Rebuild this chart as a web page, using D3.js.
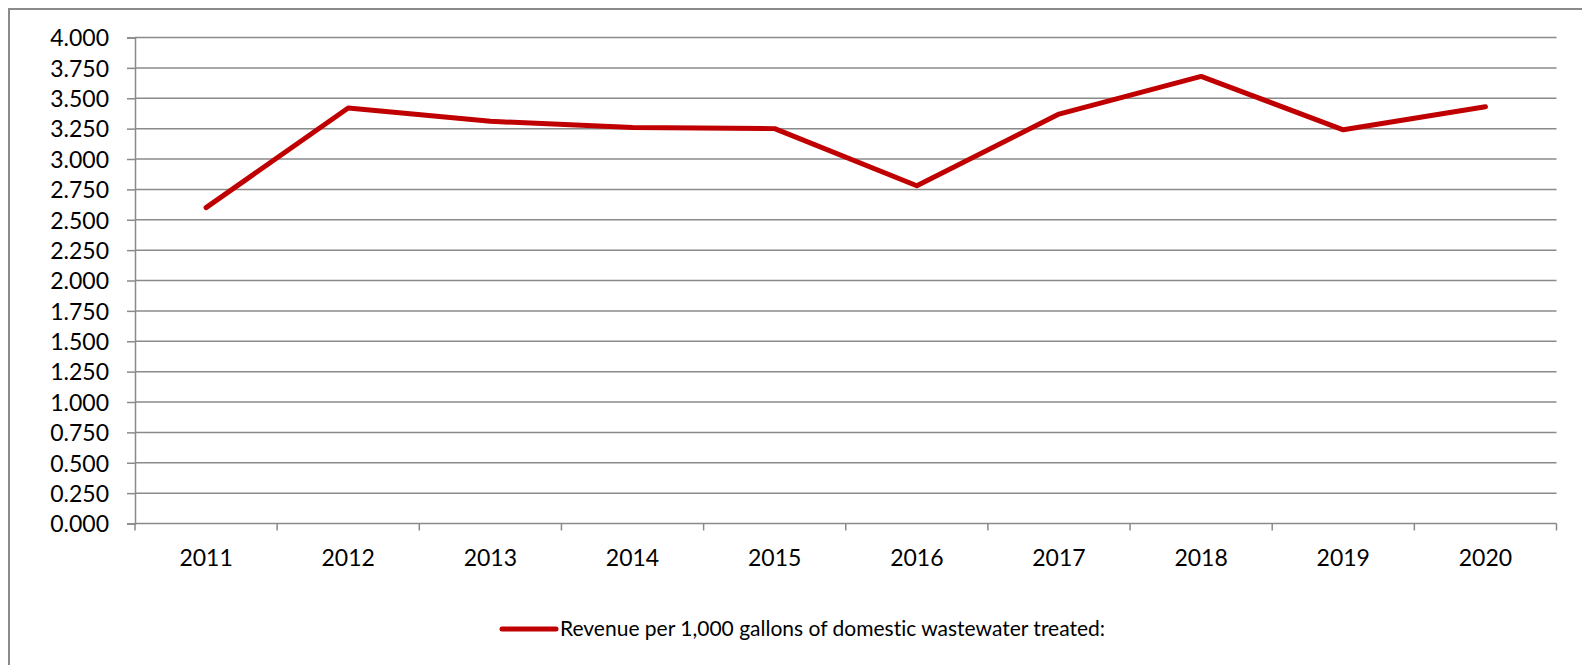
<!DOCTYPE html>
<html>
<head>
<meta charset="utf-8">
<script src="https://cdn.jsdelivr.net/npm/d3@7"></script>
<style>
  html, body { margin: 0; padding: 0; background: #fff; }
  svg { display: block; }
  text { font-variant-ligatures: none; }
</style>
</head>
<body>
<div id="chart"></div>
<script>
// Chart data
const years = ['2011', '2012', '2013', '2014', '2015', '2016', '2017', '2018', '2019', '2020'];
const revenue = [2.60, 3.42, 3.31, 3.26, 3.25, 2.78, 3.37, 3.68, 3.24, 3.43];
const yTicks = [0, 0.25, 0.5, 0.75, 1, 1.25, 1.5, 1.75, 2, 2.25, 2.5, 2.75, 3, 3.25, 3.5, 3.75, 4];
const seriesName = 'Revenue per 1,000 gallons of domestic wastewater treated:';

const width = 1582;
const height = 665;
const margin = { top: 37.5, right: 25.5, bottom: 141.5, left: 135 };
const gridColor = '#8a8a8a';
const lineColor = '#c00000';
const fontFamily = 'Lato, "Open Sans", sans-serif';

const svg = d3.select('#chart')
    .append('svg')
    .attr('width', width)
    .attr('height', height);

// outer chart border (right and bottom edges run off the picture)
svg.append('rect')
    .attr('x', 9)
    .attr('y', 9)
    .attr('width', width + 20)
    .attr('height', height + 20)
    .attr('fill', 'none')
    .attr('stroke', gridColor)
    .attr('stroke-width', 2);

const x = d3.scaleBand()
    .domain(years)
    .range([margin.left, width - margin.right]);

const y = d3.scaleLinear()
    .domain([0, 4])
    .range([height - margin.bottom, margin.top]);

// horizontal gridlines + y axis
const yAxis = svg.append('g')
    .attr('transform', `translate(${margin.left},0)`)
    .call(d3.axisLeft(y)
        .tickValues(yTicks)
        .tickFormat(d3.format('.3f'))
        .tickSize(8)
        .tickPadding(18));

yAxis.select('.domain').attr('stroke', gridColor).attr('stroke-width', 1.5);
yAxis.selectAll('.tick line').attr('stroke', gridColor).attr('stroke-width', 1.5);
yAxis.selectAll('.tick text')
    .attr('font-family', fontFamily)
    .attr('font-size', 23)
    .attr('fill', '#000')
    .attr('dy', '0.36em');

svg.append('g')
    .selectAll('line')
    .data(yTicks.filter(d => d > 0))
    .join('line')
    .attr('x1', margin.left)
    .attr('x2', width - margin.right)
    .attr('y1', d => y(d))
    .attr('y2', d => y(d))
    .attr('stroke', gridColor)
    .attr('stroke-width', 1.5);

// x axis with tick marks on category boundaries
const xAxisG = svg.append('g')
    .attr('transform', `translate(0,${y(0)})`);

xAxisG.append('line')
    .attr('x1', margin.left)
    .attr('x2', width - margin.right)
    .attr('stroke', gridColor)
    .attr('stroke-width', 1.5);

const boundaries = years.map(d => x(d)).concat([x(years[years.length - 1]) + x.bandwidth()]);
xAxisG.selectAll('.xtick')
    .data(boundaries)
    .join('line')
    .attr('class', 'xtick')
    .attr('x1', d => d)
    .attr('x2', d => d)
    .attr('y1', 0)
    .attr('y2', 7)
    .attr('stroke', gridColor)
    .attr('stroke-width', 1.5);

xAxisG.selectAll('.xlabel')
    .data(years)
    .join('text')
    .attr('class', 'xlabel')
    .attr('x', d => x(d) + x.bandwidth() / 2)
    .attr('y', 42.5)
    .attr('text-anchor', 'middle')
    .attr('font-family', fontFamily)
    .attr('font-size', 23)
    .attr('fill', '#000')
    .text(d => d);

// the series line
const line = d3.line()
    .x((d, i) => x(years[i]) + x.bandwidth() / 2)
    .y(d => y(d));

svg.append('path')
    .datum(revenue)
    .attr('d', line)
    .attr('fill', 'none')
    .attr('stroke', lineColor)
    .attr('stroke-width', 5)
    .attr('stroke-linejoin', 'round')
    .attr('stroke-linecap', 'round');

// legend
const legend = svg.append('g').attr('transform', 'translate(0,629)');

legend.append('line')
    .attr('x1', 502)
    .attr('x2', 556)
    .attr('stroke', lineColor)
    .attr('stroke-width', 5)
    .attr('stroke-linecap', 'round');

legend.append('text')
    .attr('x', 560)
    .attr('y', 7)
    .attr('font-family', fontFamily)
    .attr('font-size', 21)
    .attr('fill', '#000')
    .text(seriesName);
</script>
</body>
</html>
